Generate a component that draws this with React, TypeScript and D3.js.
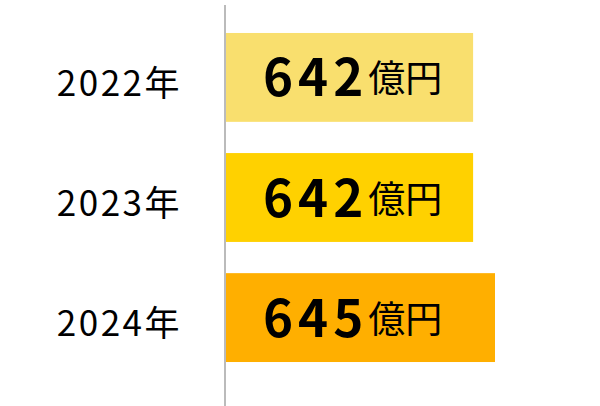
import { useEffect, useRef } from 'react';
import * as d3 from 'd3';

const years = ['2022年', '2023年', '2024年'];
const values = [642, 642, 645];
const unit = '億円';
const colors = ['#f9df6e', '#ffd100', '#ffaf00'];

const W = 600;
const H = 406;

export default function App() {
  const svgRef = useRef<SVGSVGElement>(null);

  useEffect(() => {
    if (!svgRef.current) return;
    const svg = d3.select(svgRef.current);
    svg.selectAll('*').remove();

    const axisX = 225;
    const font = '"Noto Sans CJK JP", "Noto Sans", sans-serif';

    // bars don't start at zero in the original
    const x = d3.scaleLinear().domain([608, 645]).range([axisX, axisX + 270]);
    const y = d3
      .scaleBand()
      .domain(years)
      .range([5, 390])
      .paddingInner(0.26)
      .paddingOuter(0.233);

    const rows = years.map((yr, i) => ({ yr, v: values[i], c: colors[i] }));

    svg
      .selectAll('.bar')
      .data(rows)
      .enter()
      .append('rect')
      .attr('class', 'bar')
      .attr('x', axisX)
      .attr('y', d => y(d.yr) ?? 0)
      .attr('width', d => x(d.v) - axisX)
      .attr('height', y.bandwidth())
      .attr('fill', d => d.c);

    // year labels
    svg
      .selectAll('.year')
      .data(rows)
      .enter()
      .append('text')
      .attr('class', 'year')
      .attr('x', 182)
      .attr('y', d => (y(d.yr) ?? 0) + y.bandwidth() / 2 + 9)
      .attr('text-anchor', 'end')
      .attr('dominant-baseline', 'middle')
      .attr('font-family', font)
      .attr('font-size', 35)
      .attr('letter-spacing', 2.5)
      .attr('fill', '#000')
      .text(d => d.yr);

    // value labels
    const vt = svg
      .selectAll('.val')
      .data(rows)
      .enter()
      .append('text')
      .attr('class', 'val')
      .attr('x', axisX + 38)
      .attr('y', d => (y(d.yr) ?? 0) + y.bandwidth() / 2 + 5)
      .attr('dominant-baseline', 'middle')
      .attr('font-family', font)
      .attr('fill', '#000');
    vt.append('tspan')
      .attr('font-size', 51)
      .attr('font-weight', 'bold')
      .attr('letter-spacing', 5)
      .text(d => String(d.v));
    vt.append('tspan').attr('font-size', 37).text(unit);

    // vertical axis line
    svg
      .append('line')
      .attr('x1', axisX)
      .attr('x2', axisX)
      .attr('y1', 5)
      .attr('y2', H)
      .attr('stroke', '#bbb')
      .attr('stroke-width', 2);
  }, []);

  return (
    <svg
      ref={svgRef}
      width={W}
      height={H}
      style={{ position: 'absolute', left: 0, top: 0, background: '#fff' }}
    />
  );
}
